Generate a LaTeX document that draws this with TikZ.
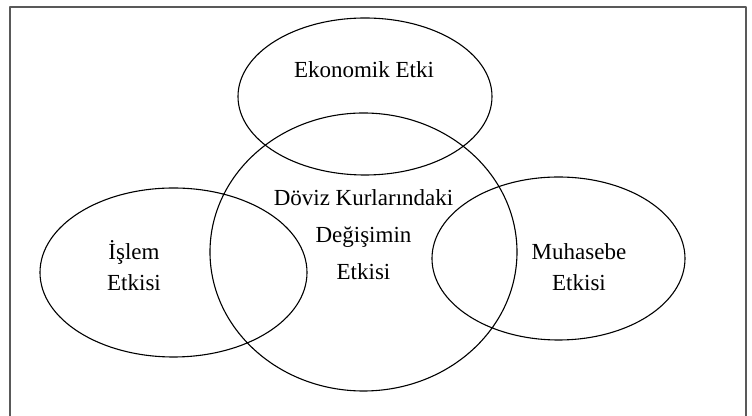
\documentclass[tikz,border=0pt]{standalone}
\usepackage{fontspec}
\setmainfont{Liberation Serif}
\begin{document}
\begin{tikzpicture}[x=.5pt, y=-.5pt, font=\fontsize{11.5}{18.5}\selectfont, line join=round, line cap=round]
		\useasboundingbox (0,0) rectangle (752,416);
		\path (365,96.5) coordinate (E)
		(363.5,252) coordinate (D)
		(173.5,272.5) coordinate (I)
		(558.5,258.5) coordinate (M)
		;
		\draw[line width=.75pt, black!65] (10,416) |- (746,7) -- (746,416);
		\draw[line width=.55pt] (E) ellipse (127 and 78.5)
		(D) ellipse (153.5 and 139)
		(I) ellipse (133.5 and 84.5)
		(M) ellipse (126.5 and 81.5);
		\node (ekonomik) at (364,70) {Ekonomik Etki};
		\node[align=center] (doviz) at (363.5,235) {Döviz Kurlarındaki\\Değişimin\\Etkisi};
		\node[align=center, font=\fontsize{11.5}{15.5}\selectfont] (islem) at (134,266) {İşlem\\Etkisi};
		\node[align=center, font=\fontsize{11.5}{15.5}\selectfont] (muhasebe) at (579,267) {Muhasebe\\Etkisi};
		\end{tikzpicture}
\end{document}
